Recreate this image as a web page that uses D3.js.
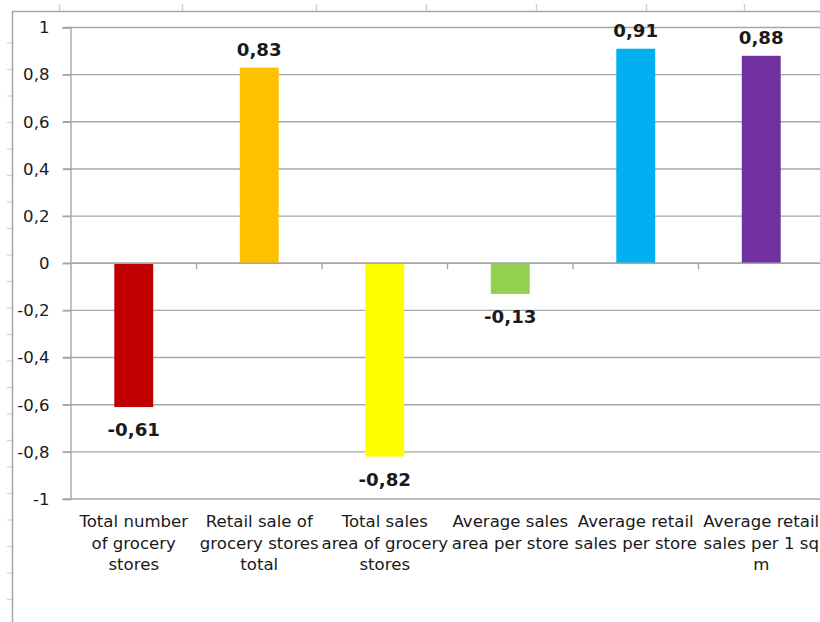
<!DOCTYPE html>
<html>
<head>
<meta charset="utf-8">
<script src="https://cdn.jsdelivr.net/npm/d3@7"></script>
<style>
  html, body { margin: 0; padding: 0; background: #fff; }
  svg { display: block; }
</style>
</head>
<body>
<svg id="chart" width="820" height="622"></svg>
<script>
// ---- data ----
const categories = [
  "Total number of grocery stores",
  "Retail sale of grocery stores total",
  "Total sales area of grocery stores",
  "Average sales area per store",
  "Average retail sales per store",
  "Average retail sales per 1 sq m"
];
const categoryLines = [
  ["Total number", "of grocery", "stores"],
  ["Retail sale of", "grocery stores", "total"],
  ["Total sales", "area of grocery", "stores"],
  ["Average sales", "area per store"],
  ["Average retail", "sales per store"],
  ["Average retail", "sales per 1 sq", "m"]
];
const values = [-0.61, 0.83, -0.82, -0.13, 0.91, 0.88];
const colors = ["#C00000", "#FFC000", "#FFFF00", "#92D050", "#00B0F0", "#7030A0"];
const yTickValues = [1, 0.8, 0.6, 0.4, 0.2, 0, -0.2, -0.4, -0.6, -0.8, -1];
const yTickLabels = ["1", "0,8", "0,6", "0,4", "0,2", "0", "-0,2", "-0,4", "-0,6", "-0,8", "-1"];

// ---- layout ----
const W = 820, H = 622;
const plot = { left: 71, right: 824, top: 27.5, bottom: 499 };
const svg = d3.select("#chart");
const FONT = "'DejaVu Sans', Verdana, sans-serif";
const SX = 1.07;

const y = d3.scaleLinear().domain([-1, 1]).range([plot.bottom, plot.top]);
const x = d3.scaleBand().domain(categories).range([plot.left, plot.right])
  .paddingInner(0.69).paddingOuter(0.345);

// spreadsheet frame (background of screenshot)
const frame = svg.append("g");
frame.append("line").attr("x1", 12).attr("x2", W).attr("y1", 11.5).attr("y2", 11.5)
  .attr("stroke", "#a6a6a6").attr("stroke-width", 1.5);
frame.append("line").attr("x1", 12.5).attr("x2", 12.5).attr("y1", 11).attr("y2", H)
  .attr("stroke", "#a6a6a6").attr("stroke-width", 1.5);
const colSeps = [59, 182, 316, 426, 536, 646, 744];
frame.selectAll(".cs").data(colSeps).join("line")
  .attr("x1", d => d + 0.5).attr("x2", d => d + 0.5).attr("y1", 4).attr("y2", 11)
  .attr("stroke", "#d0d0d0").attr("stroke-width", 1.5);
const rowSeps = d3.range(43, H, 26.5);
frame.selectAll(".rs").data(rowSeps).join("line")
  .attr("x1", 7).attr("x2", 12).attr("y1", d => d).attr("y2", d => d)
  .attr("stroke", "#d0d0d0").attr("stroke-width", 1.2);

// gridlines
const yAxis = d3.axisLeft(y).tickValues(yTickValues).tickSize(8)
  .tickFormat((d, i) => yTickLabels[i]);
svg.append("g").selectAll("line.grid").data(yTickValues).join("line")
  .attr("x1", plot.left - 8).attr("x2", W)
  .attr("y1", d => y(d)).attr("y2", d => y(d))
  .attr("stroke", "#a6a6a6").attr("stroke-width", 1.4);

// y axis
const gy = svg.append("g").attr("transform", `translate(${plot.left - 0.5},0)`).call(yAxis);
gy.select(".domain").attr("stroke", "#a6a6a6").attr("stroke-width", 1.4);
gy.selectAll(".tick line").attr("stroke", "#a6a6a6").attr("stroke-width", 1.4);
gy.selectAll(".tick text")
  .attr("x", null).attr("dy", null)
  .attr("font-family", FONT).attr("font-size", "15.5px").attr("fill", "#1a1a1a")
  .attr("text-anchor", "end").attr("dominant-baseline", "central")
  .attr("transform", `translate(-21,0) scale(${SX},1)`);

// bars
svg.append("g").selectAll("rect").data(values).join("rect")
  .attr("x", (d, i) => x(categories[i]))
  .attr("width", x.bandwidth())
  .attr("y", d => y(Math.max(0, d)))
  .attr("height", d => Math.abs(y(d) - y(0)))
  .attr("fill", (d, i) => colors[i]);

// zero axis with category separators
const gx = svg.append("g").attr("transform", `translate(0,${y(0)})`);
gx.append("line").attr("x1", plot.left).attr("x2", W).attr("y1", 0).attr("y2", 0)
  .attr("stroke", "#a6a6a6").attr("stroke-width", 1.4);
const seps = categories.slice(1).map(c => x(c) - x.step() * x.paddingInner() / 2);
gx.selectAll("line.sep").data(seps).join("line")
  .attr("x1", d => d).attr("x2", d => d).attr("y1", 0).attr("y2", 6)
  .attr("stroke", "#a6a6a6").attr("stroke-width", 1.4);

// value labels
const fmt = d => d3.format(".2f")(d).replace(".", ",").replace("−", "-");
svg.append("g").selectAll("text").data(values).join("text")
  .attr("transform", (d, i) => {
    const cx = x(categories[i]) + x.bandwidth() / 2;
    const cy = d >= 0 ? y(d) - 12 : y(d) + 29;
    return `translate(${cx},${cy}) scale(1.04,1)`;
  })
  .attr("text-anchor", "middle")
  .attr("font-family", FONT).attr("font-weight", "bold").attr("font-size", "17.5px")
  .attr("fill", "#1a1a1a")
  .text(d => fmt(d));

// category labels
const cl = svg.append("g");
categories.forEach((c, i) => {
  const cx = x(c) + x.bandwidth() / 2;
  categoryLines[i].forEach((line, j) => {
    cl.append("text")
      .attr("transform", `translate(${cx},${527 + j * 21.5}) scale(${SX},1)`)
      .attr("text-anchor", "middle")
      .attr("font-family", FONT).attr("font-size", "15.5px").attr("fill", "#1a1a1a")
      .text(line);
  });
});
</script>
</body>
</html>
